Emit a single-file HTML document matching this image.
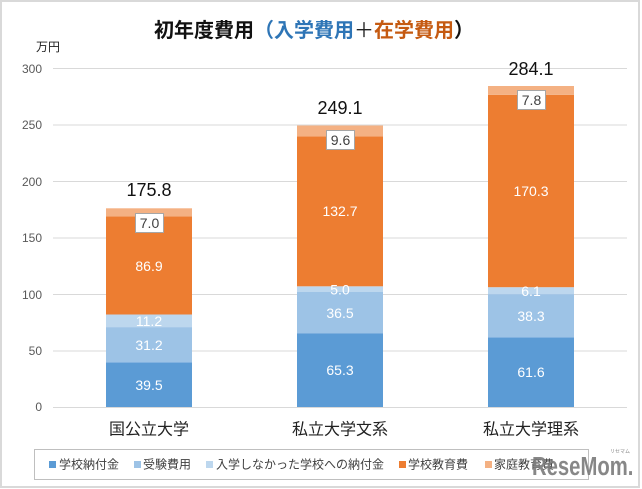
<!DOCTYPE html>
<html><head><meta charset="utf-8"><style>
html,body{margin:0;padding:0;background:#fff;}
body{width:642px;height:489px;overflow:hidden;}
svg{display:block;font-family:"Liberation Sans","Noto Sans CJK JP",sans-serif;}
</style></head><body>
<svg width="642" height="489" viewBox="0 0 642 489" xmlns="http://www.w3.org/2000/svg">
<rect x="1" y="1" width="638" height="486" fill="#fff" stroke="#d9d9d9" stroke-width="2"/>
<!-- title -->
<text x="314" y="31" text-anchor="middle" dominant-baseline="central" font-size="20" font-weight="bold" font-family="Liberation Sans, Noto Sans CJK JP, sans-serif"><tspan fill="#111">初年度費用</tspan><tspan fill="#2e75b6">（入学費用</tspan><tspan fill="#222" font-weight="normal">＋</tspan><tspan fill="#c55a11">在学費用</tspan><tspan fill="#111">）</tspan></text>
<!-- unit -->
<text x="48" y="47" text-anchor="middle" dominant-baseline="central" font-size="12" fill="#222">万円</text>
<!-- grid -->
<g stroke="#d9d9d9" stroke-width="1">
<line x1="53" x2="627" y1="68.5" y2="68.5"/>
<line x1="53" x2="627" y1="125" y2="125"/>
<line x1="53" x2="627" y1="181.5" y2="181.5"/>
<line x1="53" x2="627" y1="238" y2="238"/>
<line x1="53" x2="627" y1="294.5" y2="294.5"/>
<line x1="53" x2="627" y1="351" y2="351"/>
<line x1="53" x2="627" y1="407.5" y2="407.5"/>
</g>
<g font-size="12" fill="#595959" text-anchor="end" dominant-baseline="central">
<text x="42" y="69">300</text>
<text x="42" y="125">250</text>
<text x="42" y="182">200</text>
<text x="42" y="238">150</text>
<text x="42" y="295">100</text>
<text x="42" y="351">50</text>
<text x="42" y="407">0</text>
</g>
<!-- bar 1 -->
<rect x="106" y="362.4" width="86" height="44.6" fill="#5b9bd5"/>
<rect x="106" y="327.1" width="86" height="35.3" fill="#9dc3e6"/>
<rect x="106" y="314.5" width="86" height="12.6" fill="#bdd7ee"/>
<rect x="106" y="216.3" width="86" height="98.2" fill="#ed7d31"/>
<rect x="106" y="208.3" width="86" height="8" fill="#f4b183"/>
<!-- bar 2 -->
<rect x="297" y="333.2" width="86" height="73.8" fill="#5b9bd5"/>
<rect x="297" y="292" width="86" height="41.2" fill="#9dc3e6"/>
<rect x="297" y="286.3" width="86" height="5.7" fill="#bdd7ee"/>
<rect x="297" y="136.4" width="86" height="149.9" fill="#ed7d31"/>
<rect x="297" y="125.5" width="86" height="10.9" fill="#f4b183"/>
<!-- bar 3 -->
<rect x="488" y="337.4" width="86" height="69.6" fill="#5b9bd5"/>
<rect x="488" y="294.1" width="86" height="43.3" fill="#9dc3e6"/>
<rect x="488" y="287.2" width="86" height="6.9" fill="#bdd7ee"/>
<rect x="488" y="94.8" width="86" height="192.4" fill="#ed7d31"/>
<rect x="488" y="86" width="86" height="8.8" fill="#f4b183"/>
<!-- inner labels -->
<g font-size="14" fill="#fff" text-anchor="middle" dominant-baseline="central">
<text x="149" y="385">39.5</text>
<text x="149" y="345">31.2</text>
<text x="149" y="321">11.2</text>
<text x="149" y="266">86.9</text>
<text x="340" y="370">65.3</text>
<text x="340" y="313">36.5</text>
<text x="340" y="289.5">5.0</text>
<text x="340" y="211">132.7</text>
<text x="531" y="372">61.6</text>
<text x="531" y="316">38.3</text>
<text x="531" y="291">6.1</text>
<text x="531" y="191">170.3</text>
</g>
<!-- boxed labels -->
<g fill="#fff" stroke="#a6a6a6" stroke-width="1">
<rect x="135.5" y="213.5" width="28" height="19"/>
<rect x="326.5" y="130.5" width="28" height="19"/>
<rect x="517.5" y="90.5" width="28" height="19"/>
</g>
<g font-size="14" fill="#404040" text-anchor="middle" dominant-baseline="central">
<text x="149.5" y="223">7.0</text>
<text x="340.5" y="140">9.6</text>
<text x="531.5" y="100">7.8</text>
</g>
<!-- totals -->
<g font-size="18" fill="#111" text-anchor="middle" dominant-baseline="central">
<text x="149" y="190">175.8</text>
<text x="340" y="108">249.1</text>
<text x="531" y="69">284.1</text>
</g>
<!-- categories -->
<g font-size="16" fill="#222" text-anchor="middle" dominant-baseline="central">
<text x="149" y="430">国公立大学</text>
<text x="340" y="430">私立大学文系</text>
<text x="531" y="430">私立大学理系</text>
</g>
<!-- legend -->
<rect x="34.5" y="449.5" width="554" height="30" fill="#fff" stroke="#bfbfbf" stroke-width="1"/>
<rect x="49" y="461" width="7" height="7" fill="#5b9bd5"/>
<rect x="134" y="461" width="7" height="7" fill="#9dc3e6"/>
<rect x="206" y="461" width="7" height="7" fill="#bdd7ee"/>
<rect x="399" y="461" width="7" height="7" fill="#ed7d31"/>
<rect x="485" y="461" width="7" height="7" fill="#f4b183"/>
<g font-size="12" fill="#404040" dominant-baseline="central">
<text x="59" y="464.5">学校納付金</text>
<text x="143" y="464.5">受験費用</text>
<text x="216" y="464.5">入学しなかった学校への納付金</text>
<text x="408" y="464.5">学校教育費</text>
<text x="494" y="464.5">家庭教育費</text>
</g>
<!-- watermark -->
<text x="0" y="0" font-size="26" font-weight="bold" fill="#7a7a7a" fill-opacity="0.9" transform="translate(532,475) scale(0.78,1)" font-family="Liberation Sans, sans-serif">ReseMom.</text>
<text x="620" y="453" font-size="5" fill="#888" text-anchor="middle" font-family="Noto Sans CJK JP, sans-serif">リセマム</text>
</svg>
</body></html>
